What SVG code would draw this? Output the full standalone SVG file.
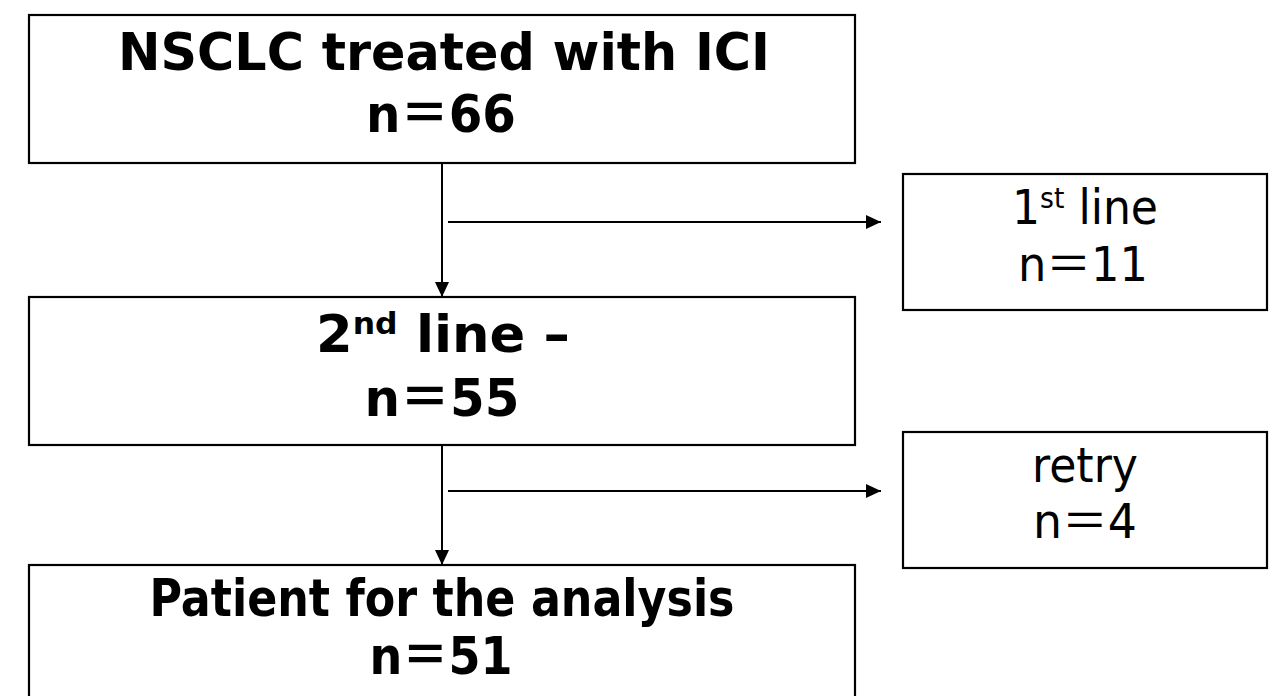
<svg xmlns="http://www.w3.org/2000/svg" width="1278" height="696" viewBox="0 0 1278 696">
<defs>
<style>
.box{fill:#fff;stroke:#000;stroke-width:2.2}
.b{font-family:"DejaVu Sans","Noto Sans CJK JP",sans-serif;font-weight:bold;font-size:52px;text-anchor:middle;fill:#000}
.r{font-family:"DejaVu Sans","Noto Sans CJK JP",sans-serif;font-size:48px;text-anchor:middle;fill:#000}
.c{stroke:#000;stroke-width:2;fill:none}
</style>
<marker id="ah" viewBox="0 0 15 14" refX="15" refY="7" markerWidth="15" markerHeight="14" markerUnits="userSpaceOnUse" orient="auto">
<path d="M0,0 L15,7 L0,14 z" fill="#000"/>
</marker>
</defs>
<rect width="1278" height="696" fill="#fff"/>
<g id="connectors">
<line class="c" x1="442" y1="163" x2="442" y2="297" marker-end="url(#ah)"/>
<line class="c" x1="448" y1="222" x2="881" y2="222" marker-end="url(#ah)"/>
<line class="c" x1="442" y1="445" x2="442" y2="565" marker-end="url(#ah)"/>
<line class="c" x1="448" y1="491" x2="881" y2="491" marker-end="url(#ah)"/>
</g>
<g id="n1">
<rect class="box" x="29" y="15" width="826" height="148"/>
<text class="b" x="444" y="70" textLength="652" lengthAdjust="spacingAndGlyphs">NSCLC treated with ICI</text>
<text class="b" x="441" y="132" textLength="150" lengthAdjust="spacingAndGlyphs">n＝66</text>
</g>
<g id="n2">
<rect class="box" x="903" y="174" width="364" height="136"/>
<text class="r" x="1085" y="224" textLength="146" lengthAdjust="spacingAndGlyphs">1<tspan font-size="29" dy="-16">st</tspan><tspan dy="16"> line</tspan></text>
<text class="r" x="1083" y="281" textLength="130" lengthAdjust="spacingAndGlyphs">n＝11</text>
</g>
<g id="n3">
<rect class="box" x="29" y="297" width="826" height="148"/>
<text class="b" x="443" y="352" textLength="254" lengthAdjust="spacingAndGlyphs">2<tspan font-size="31" dy="-18">nd</tspan><tspan dy="18"> line –</tspan></text>
<text class="b" x="442" y="416" textLength="155" lengthAdjust="spacingAndGlyphs">n＝55</text>
</g>
<g id="n4">
<rect class="box" x="903" y="432" width="364" height="136"/>
<text class="r" x="1085" y="482" textLength="106" lengthAdjust="spacingAndGlyphs">retry</text>
<text class="r" x="1085" y="538" textLength="104" lengthAdjust="spacingAndGlyphs">n＝4</text>
</g>
<g id="n5">
<rect class="box" x="29" y="565" width="826" height="200"/>
<text class="b" x="442" y="616" textLength="585" lengthAdjust="spacingAndGlyphs">Patient for the analysis</text>
<text class="b" x="441" y="674" textLength="143" lengthAdjust="spacingAndGlyphs">n＝51</text>
</g>
</svg>
